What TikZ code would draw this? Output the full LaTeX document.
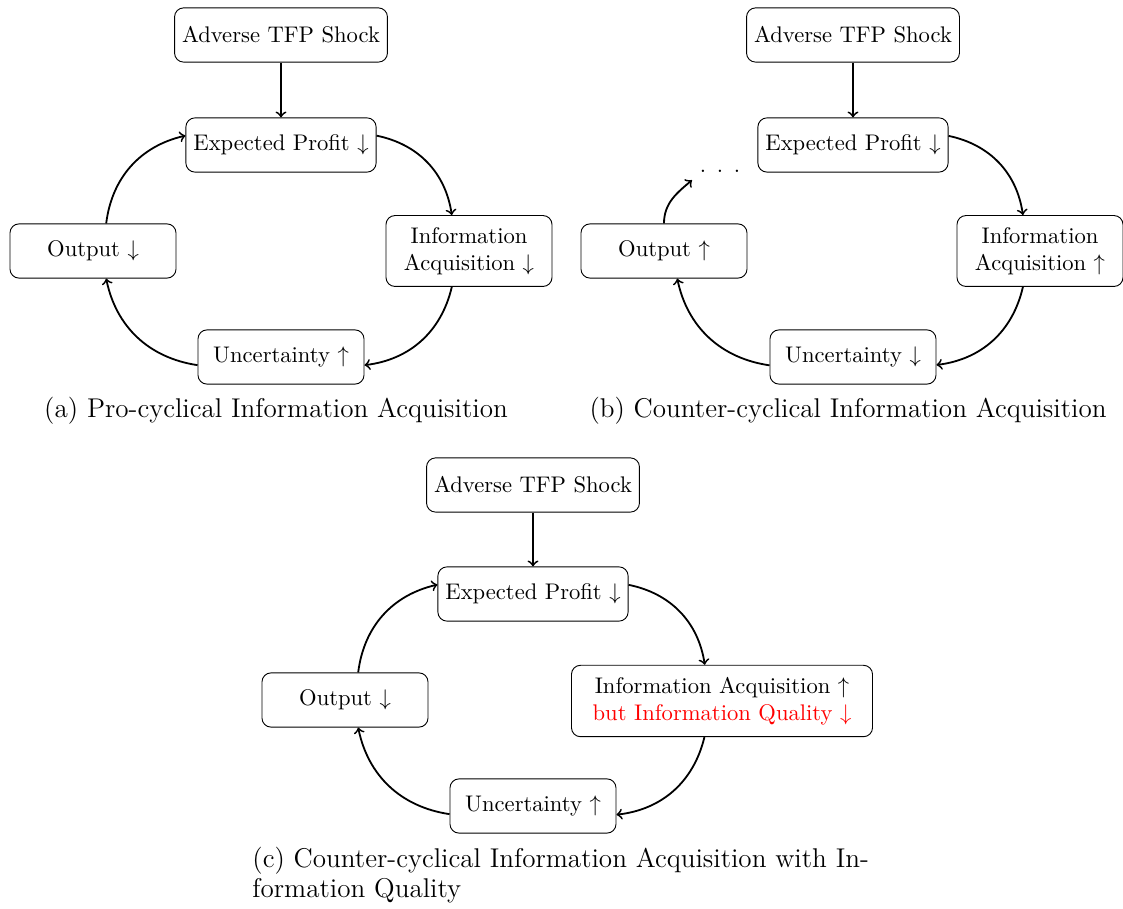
\documentclass[tikz,border=0pt]{standalone}
\usepackage{xcolor}
\usepackage{tikz}
\usetikzlibrary{arrows}
\tikzset{
  every node/.style={font=\fontsize{10}{12}\selectfont},
  stage/.style={draw,rounded corners=4pt,align=center,minimum width=73.5pt,
                minimum height=24pt,inner ysep=5.2pt},
  push/.style={->,thick},
  cyc/.style={->,thick,bend left=35},
  subcap/.style={font=\fontsize{12}{13.3}\selectfont,inner sep=0pt},
}

\begin{document}
\begin{tikzpicture}[x=0.4427pt,y=0.4427pt]
\useasboundingbox (0,0) rectangle (1123,-909);

% (a) pro-cyclical
\node[stage] (shockA) at (281,-35) {Adverse TFP Shock};
\node[stage] (profA) at (281,-145) {Expected Profit $\downarrow$};
\node[stage] (infoA) at (469,-251) {Information\\Acquisition $\downarrow$};
\node[stage] (uncA) at (281,-357) {Uncertainty $\uparrow$};
\node[stage] (outA) at (93,-251) {Output $\downarrow$};
\draw[push] (shockA) -- (profA);
\draw[cyc] (profA) to (infoA);
\draw[cyc] (infoA) to (uncA);
\draw[cyc] (uncA) to (outA);
\draw[cyc] (outA) to (profA);
\node[subcap,anchor=base] (capA) at (276,-418) {(a) Pro-cyclical Information Acquisition};

% (b) counter-cyclical
\node[stage] (shockB) at (853,-35) {Adverse TFP Shock};
\node[stage] (profB) at (853,-145) {Expected Profit $\downarrow$};
\node[stage] (infoB) at (1040,-251) {Information\\Acquisition $\uparrow$};
\node[stage] (uncB) at (853,-357) {Uncertainty $\downarrow$};
\node[stage] (outB) at (664,-251) {Output $\uparrow$};
\node (dotsB) at (720,-171) {.\hspace{4.7pt}.\hspace{4.7pt}.};
\draw[push] (shockB) -- (profB);
\draw[cyc] (profB) to (infoB);
\draw[cyc] (infoB) to (uncB);
\draw[cyc] (uncB) to (outB);
\draw[push] (outB) to[out=90,in=220] (dotsB.south west);
\node[subcap,anchor=base] (capB) at (848,-418) {(b) Counter-cyclical Information Acquisition};

% (c) with information quality
\node[stage] (shockC) at (533,-485) {Adverse TFP Shock};
\node[stage] (profC) at (533,-594) {Expected Profit $\downarrow$};
\node[stage,text width=4.45cm] (infoC) at (722,-701) {Information Acquisition $\uparrow$\\
  \textcolor{red}{but Information Quality $\downarrow$}};
\node[stage] (uncC) at (533,-806) {Uncertainty $\uparrow$};
\node[stage] (outC) at (345,-700) {Output $\downarrow$};
\draw[push] (shockC) -- (profC);
\draw[cyc] (profC) to (infoC);
\draw[cyc] (infoC) to (uncC);
\draw[cyc] (uncC) to (outC);
\draw[cyc] (outC) to (profC);
\node[subcap,anchor=north west,align=left] (capC) at (252,-847)
  {(c) Counter-cyclical Information Acquisition with In-\\formation Quality};
\end{tikzpicture}
\end{document}
